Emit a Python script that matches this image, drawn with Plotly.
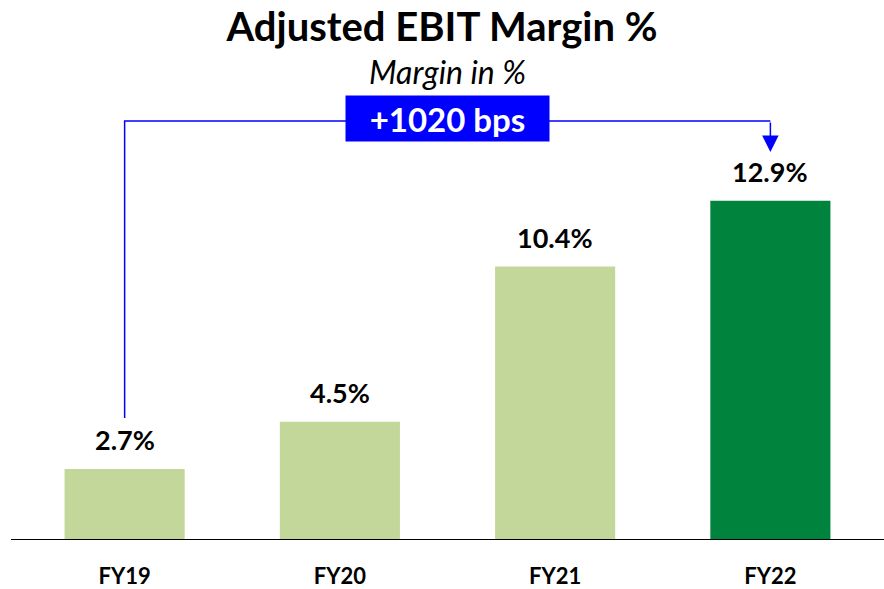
import plotly.graph_objects as go

categories = ["FY19", "FY20", "FY21", "FY22"]
margins = [2.7, 4.5, 10.4, 12.9]
bar_colors = ["#C4D79B", "#C4D79B", "#C4D79B", "#00843D"]
change_label = "+1020 bps"
title_text = "Adjusted EBIT Margin %"
subtitle_text = "Margin in %"

FONT = "Lato"

fig = go.Figure()
fig.add_trace(go.Bar(
    x=categories, y=margins, marker_color=bar_colors, marker_line_width=0,
    hoverinfo="skip", showlegend=False,
))

# data labels
for c, v in zip(categories, margins):
    fig.add_annotation(x=c, y=v, text=f"<b>{v:.1f}%</b>", showarrow=False,
                       yanchor="middle", yshift=29,
                       font=dict(family=FONT, size=27, color="black"))

# connector: from above first bar label up, across, down to last bar
line_y = 15.93
left_bottom = margins[0] + 4.64 - 2.7
arrow_tip = margins[-1] + 1.85
i_first, i_last = 0, len(categories) - 1
fig.add_shape(type="path",
              path=f"M {i_first},{left_bottom} L {i_first},{line_y} L {i_last},{line_y}",
              xref="x", yref="y", line=dict(color="#0000FF", width=1.5))
fig.add_annotation(x=i_last, y=arrow_tip, ax=i_last, ay=line_y, axref="x", ayref="y",
                   xref="x", yref="y", text="", showarrow=True,
                   arrowhead=2, arrowsize=2.2, arrowwidth=1.5, arrowcolor="#0000FF")
fig.add_annotation(x=(i_first + i_last) / 2, y=line_y, text=f"<b>{change_label}</b>",
                   showarrow=False, bgcolor="#0000FF", width=201, height=43,
                   font=dict(family=FONT, size=33, color="white"), yshift=2.5)

# subtitle
fig.add_annotation(xref="paper", yref="paper", x=0.5, y=(540 - 71) / 480,
                   text=f"<i>{subtitle_text}</i>", showarrow=False, yanchor="middle",
                   font=dict(family=FONT, size=32, color="black"))

# baseline
fig.add_shape(type="line", xref="paper", yref="y", x0=-0.007, x1=1.007, y0=0, y1=0,
              line=dict(color="black", width=2))

fig.update_layout(
    width=884, height=589,
    margin=dict(l=17, r=6, t=60, b=49, autoexpand=False),
    plot_bgcolor="white", paper_bgcolor="white",
    bargap=0.442,
    title=dict(text=f"<b>{title_text}</b>", x=0.5, xanchor="center",
               y=1 - 27 / 589, yanchor="middle",
               font=dict(family=FONT, size=40, color="black")),
    xaxis=dict(showgrid=False, showline=False, zeroline=False, automargin=False,
               ticks="outside", ticklen=17, tickcolor="rgba(0,0,0,0)",
               tickfont=dict(family=FONT, size=22, color="black"),
               tickprefix="<b>", ticksuffix="</b>"),
    yaxis=dict(range=[0, 480 / 26.3], visible=False, fixedrange=True, automargin=False),
)

fig.write_html("out.html", config={"displayModeBar": False, "staticPlot": True},
               post_script="document.body.style.margin='0';document.body.style.overflow='hidden';")
